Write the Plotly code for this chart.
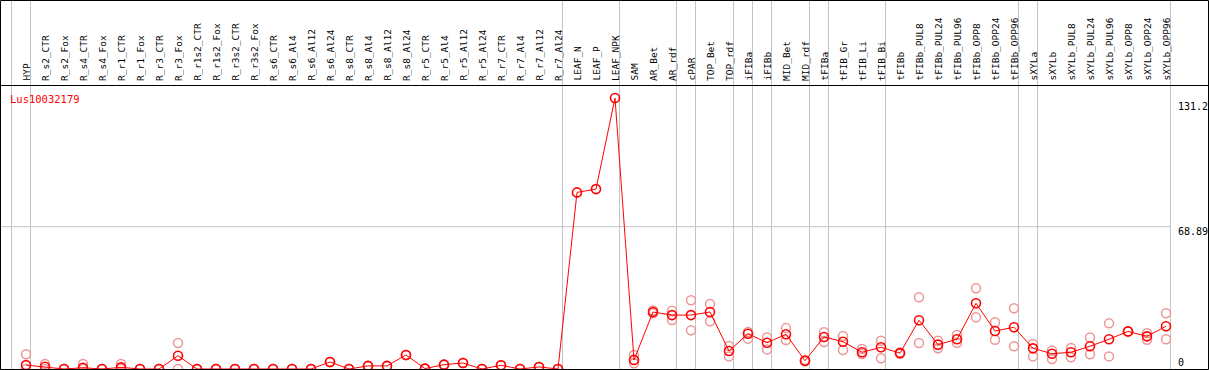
import plotly.graph_objects as go

categories = ["HYP", "R_s2_CTR", "R_s2_Fox", "R_s4_CTR", "R_s4_Fox", "R_r1_CTR", "R_r1_Fox",
              "R_r3_CTR", "R_r3_Fox", "R_r1s2_CTR", "R_r1s2_Fox", "R_r3s2_CTR", "R_r3s2_Fox",
              "R_s6_CTR", "R_s6_Al4", "R_s6_Al12", "R_s6_Al24", "R_s8_CTR", "R_s8_Al4", "R_s8_Al12",
              "R_s8_Al24", "R_r5_CTR", "R_r5_Al4", "R_r5_Al12", "R_r5_Al24", "R_r7_CTR", "R_r7_Al4",
              "R_r7_Al12", "R_r7_Al24", "LEAF_N", "LEAF_P", "LEAF_NPK", "SAM", "AR_Bet", "AR_rdf",
              "cPAR", "TOP_Bet", "TOP_rdf", "iFIBa", "iFIBb", "MID_Bet", "MID_rdf", "tFIBa",
              "tFIB_Gr", "tFIB_Li", "tFIB_Bi", "tFIBb", "tFIBb_PUL8", "tFIBb_PUL24", "tFIBb_PUL96",
              "tFIBb_OPP8", "tFIBb_OPP24", "tFIBb_OPP96", "sXYLa", "sXYLb", "sXYLb_PUL8",
              "sXYLb_PUL24", "sXYLb_PUL96", "sXYLb_OPP8", "sXYLb_OPP24", "sXYLb_OPP96"]

mean_vals = [1.9, 1.1, 0, 0.6, 0, 0.8, 0, 0, 6.4, 0, 0, 0, 0,
             0, 0, 0, 3.4, 0, 1.5, 1.5, 6.8, 0.2, 2.1, 2.9, 0, 1.8, 0, 1.0, 0,
             85.5, 87.1, 131.2, 4.4, 27.6, 26.1, 26.1, 27.6, 8.7, 17.1, 12.7, 16.8, 4.0,
             15.5, 13.2, 8.1, 10.5, 7.7, 23.6, 11.8, 14.4, 31.8, 18.4, 20.2,
             10.0, 7.4, 8.1, 11.0, 14.4, 18.2, 15.8, 20.7]

rep_hi = [7.1, 2.4, 0, 2.4, 0, 2.4, 0, 0, 12.6, 0, 0, 0, 0,
          0, 0, 0, 3.4, 0, 1.5, 1.5, 6.8, 0.2, 2.1, 2.9, 0, 1.8, 0, 1.0, 0,
          None, None, None, 6.8, 28.3, 28.2, 33.3, 31.5, 11.1, 17.9, 15.3, 19.8, 4.3,
          17.8, 16.0, 9.7, 13.7, 8.0, 34.7, 13.7, 16.5, 39.1, 22.6, 29.4,
          12.1, 8.9, 10.2, 15.3, 22.1, 18.2, 17.3, 27.0]

rep_lo = [0, 0, 0, 0, 0, 0, 0, 0, 0, 0, 0, 0, 0,
          0, 0, 0, 3.4, 0, 1.5, 1.5, 6.8, 0.2, 2.1, 2.9, 0, 1.8, 0, 1.0, 0,
          None, None, None, 2.8, 27.0, 23.7, 18.7, 23.1, 6.1, 14.7, 9.5, 14.0, 3.7,
          13.1, 9.2, 7.3, 5.2, 7.4, 12.6, 10.0, 12.7, 25.0, 14.2, 11.0,
          6.1, 4.8, 5.7, 7.1, 6.1, 18.2, 14.2, 14.4]

# index of the last category in each group (-1 = left edge)
group_ends = [-1, 0, 28, 31, 34, 35, 37, 38, 39, 41, 42, 45, 52, 53, 60]

tick_vals = [131.2, 68.89, 0]
tick_text = ["131.2", "68.89", "0"]
grid_vals = [68.89]
gene_id = "Lus10032179"

# ---------------- layout geometry ----------------
W, H = 1209, 370
PX0, STEP = 26, 19            # pixel of first category, spacing
Y0PX, TOPPX = 369, 98         # pixel rows of value 0 and of max value
ymax_val = max(mean_vals)
scale = (Y0PX - TOPPX) / ymax_val
xr = [-PX0 / STEP, (W - PX0) / STEP]
yr = [-(H - Y0PX) / scale, Y0PX / scale]
HEADER_PX = 85.5
RIGHT_EDGE = group_ends[-1] + 4.5 / STEP

def py(px):
    return 1 - px / H

def pxx(px):
    return px / W

MONO = "DejaVu Sans Mono"
RED = "#ff0000"
LIGHT = "rgb(236,150,150)"
GRAY = "#c4c4c4"

fig = go.Figure()

for reps in (rep_hi, rep_lo):
    fig.add_trace(go.Scatter(
        x=categories, y=reps, mode="markers", hoverinfo="skip",
        marker=dict(symbol="circle-open", size=9, color=LIGHT, line=dict(width=1.5)),
        showlegend=False))

fig.add_trace(go.Scatter(
    x=categories, y=mean_vals, mode="lines+markers",
    line=dict(color=RED, width=1),
    marker=dict(symbol="circle-open", size=9, color=RED, line=dict(width=1.6)),
    showlegend=False))

shapes = []
for g in group_ends:
    xb = g + 4.5 / STEP
    shapes.append(dict(type="line", xref="x", yref="paper", x0=xb, x1=xb, y0=0, y1=1,
                       line=dict(color=GRAY, width=1), layer="below"))
for gv in grid_vals:
    shapes.append(dict(type="line", xref="x", yref="y", x0=xr[0], x1=RIGHT_EDGE, y0=gv, y1=gv,
                       line=dict(color=GRAY, width=1), layer="below"))
# header separator and outer frame
shapes.append(dict(type="line", xref="paper", yref="paper", x0=0, x1=1,
                   y0=py(HEADER_PX), y1=py(HEADER_PX), line=dict(color="black", width=1)))
shapes.append(dict(type="rect", xref="paper", yref="paper",
                   x0=pxx(0.5), x1=pxx(W - 0.5), y0=py(H - 0.5), y1=py(0.5),
                   line=dict(color="black", width=1)))

annotations = []
for c in categories:
    annotations.append(dict(x=c, y=py(83), xref="x", yref="paper", text=c, textangle=-90,
                            xanchor="center", yanchor="bottom", showarrow=False,
                            font=dict(family=MONO, size=9.5, color="black")))
annotations.append(dict(x=pxx(8), y=py(91), xref="paper", yref="paper", text=gene_id,
                        xanchor="left", yanchor="top", showarrow=False,
                        font=dict(family=MONO, size=10.5, color=RED)))
shifts = {0: -8, 1: -5, 2: 7}
for i, (tv, tt) in enumerate(zip(tick_vals, tick_text)):
    annotations.append(dict(x=pxx(1176), y=tv, xref="paper", yref="y", text=tt,
                            xanchor="left", yanchor="middle", yshift=shifts[i], showarrow=False,
                            font=dict(family=MONO, size=10, color="black")))

fig.update_layout(
    width=W, height=H, autosize=False,
    margin=dict(l=0, r=0, t=0, b=0, pad=0),
    paper_bgcolor="white", plot_bgcolor="white",
    xaxis=dict(type="category", categoryarray=categories, range=xr, visible=False, fixedrange=True),
    yaxis=dict(range=yr, visible=False, fixedrange=True),
    shapes=shapes, annotations=annotations,
)

fig.write_html("out.html", config={"displayModeBar": False},
               post_script="document.body.style.margin='0';document.body.style.overflow='hidden';")
